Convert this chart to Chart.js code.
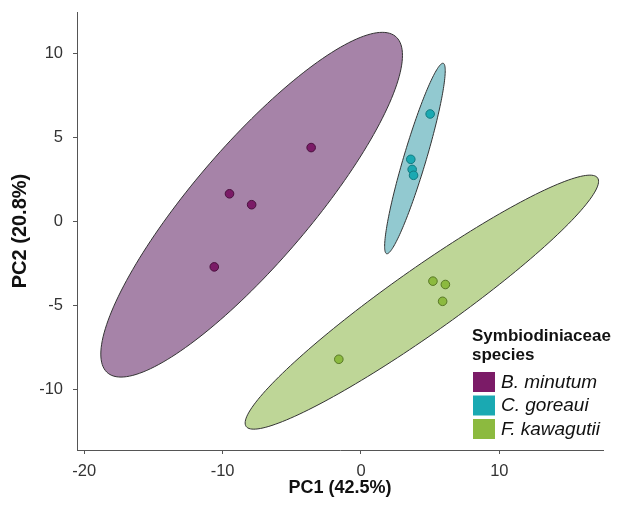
<!DOCTYPE html>
<html>
<head>
<meta charset="utf-8">
<script src="https://cdn.jsdelivr.net/npm/chart.js@4"></script>
<style>
html, body { margin: 0; padding: 0; background: #fff; }
</style>
</head>
<body>
<canvas id="pca" width="622" height="505"></canvas>
<script>
// PCA scores
var species = ["B. minutum", "C. goreaui", "F. kawagutii"];
var bmPC1 = [-3.6, -9.5, -7.9, -10.6];
var bmPC2 = [4.4, 1.65, 1.0, -2.7];
var cgPC1 = [5.0, 3.6, 3.7, 3.8];
var cgPC2 = [6.4, 3.7, 3.1, 2.75];
var fkPC1 = [5.2, 6.1, 5.9, -1.6];
var fkPC2 = [-3.55, -3.75, -4.75, -8.2];

// ellipses (data units): centre, half width, half height, y offset at the rightmost point
var ellCentreX = [-7.9, 3.9, 4.4];
var ellCentreY = [1.0, 3.75, -4.8];
var ellHalfW = [10.9, 2.19, 12.77];
var ellHalfH = [10.26, 5.67, 7.56];
var ellTilt = [8.89, 5.23, 7.19];

var xTicks = [-20, -10, 0, 10];
var yTicks = [-10, -5, 0, 5, 10];

var pointFill = ["#7b1b67", "#1aa9b2", "#8cba3f"];
var pointEdge = ["#4a0f3e", "#127a80", "#587826"];
var ellFill = ["#a683a8", "#92c9d0", "#bed697"];

Chart.defaults.font.family = "'Liberation Sans', Arial, sans-serif";

function pairs(xs, ys) {
  return xs.map(function (v, i) { return { x: v, y: ys[i] }; });
}

var ellipsePlugin = {
  id: 'ellipses',
  beforeDatasetsDraw: function (chart) {
    var ctx = chart.ctx, sx = chart.scales.x, sy = chart.scales.y;
    ctx.save();
    for (var i = 0; i < ellCentreX.length; i++) {
      var a = ellHalfW[i], c = ellTilt[i];
      var d = Math.sqrt(ellHalfH[i] * ellHalfH[i] - c * c);
      ctx.beginPath();
      for (var k = 0; k <= 180; k++) {
        var t = k / 180 * 2 * Math.PI;
        var px = sx.getPixelForValue(ellCentreX[i] + a * Math.cos(t));
        var py = sy.getPixelForValue(ellCentreY[i] + c * Math.cos(t) + d * Math.sin(t));
        if (k === 0) ctx.moveTo(px, py); else ctx.lineTo(px, py);
      }
      ctx.closePath();
      ctx.fillStyle = ellFill[i];
      ctx.fill();
      ctx.strokeStyle = '#333';
      ctx.lineWidth = 1;
      ctx.stroke();
    }
    ctx.restore();
  }
};

// legend sits inside the plot, bottom right
var legendPlugin = {
  id: 'insideLegend',
  afterDraw: function (chart) {
    var ctx = chart.ctx;
    ctx.save();
    ctx.fillStyle = '#111';
    ctx.font = "bold 17px 'Liberation Sans', Arial, sans-serif";
    ctx.textBaseline = 'alphabetic';
    ctx.fillText('Symbiodiniaceae', 472, 341);
    ctx.fillText('species', 472, 360);
    ctx.font = "italic 19px 'Liberation Sans', Arial, sans-serif";
    ctx.textBaseline = 'middle';
    for (var i = 0; i < species.length; i++) {
      var top = 372 + i * 23.5;
      ctx.fillStyle = pointFill[i];
      ctx.fillRect(473, top, 22, 20);
      ctx.fillStyle = '#111';
      ctx.fillText(species[i], 501, top + 10.5);
    }
    ctx.restore();
  }
};

function axisTicks(list) {
  return function (scale) {
    scale.ticks = list.map(function (v) { return { value: v }; });
  };
}

new Chart(document.getElementById('pca'), {
  type: 'scatter',
  data: {
    datasets: [
      { label: species[0], data: pairs(bmPC1, bmPC2) },
      { label: species[1], data: pairs(cgPC1, cgPC2) },
      { label: species[2], data: pairs(fkPC1, fkPC2) }
    ].map(function (ds, i) {
      ds.backgroundColor = pointFill[i];
      ds.borderColor = pointEdge[i];
      ds.borderWidth = 1;
      ds.pointRadius = 4.3;
      return ds;
    })
  },
  options: {
    responsive: false,
    animation: false,
    layout: { padding: { left: 0, right: 19, top: 12, bottom: 0 } },
    plugins: { legend: { display: false }, tooltip: { enabled: false } },
    scales: {
      x: {
        type: 'linear',
        min: -20.52,
        max: 17.49,
        afterBuildTicks: axisTicks(xTicks),
        afterFit: function (s) { s.height = 55; s.paddingLeft = 0; s.paddingRight = 0; },
        border: { color: '#555', width: 1 },
        grid: { drawOnChartArea: false, tickLength: 4, color: '#555' },
        ticks: { color: '#333', font: { size: 16.5 }, padding: 8 },
        title: {
          display: true, text: 'PC1 (42.5%)', color: '#111',
          font: { size: 18, weight: 'bold' }, padding: { top: 0, bottom: 6 }
        }
      },
      y: {
        type: 'linear',
        min: -13.6,
        max: 12.47,
        afterBuildTicks: axisTicks(yTicks),
        afterFit: function (s) { s.width = 77; s.paddingTop = 0; s.paddingBottom = 0; },
        border: { color: '#555', width: 1 },
        grid: { drawOnChartArea: false, tickLength: 4, color: '#555' },
        ticks: { color: '#333', font: { size: 16.5 }, padding: 10 },
        title: {
          display: true, text: 'PC2 (20.8%)', color: '#111',
          font: { size: 20, weight: 'bold' }, padding: { top: 8, bottom: 0 }
        }
      }
    }
  },
  plugins: [ellipsePlugin, legendPlugin]
});
</script>
</body>
</html>
